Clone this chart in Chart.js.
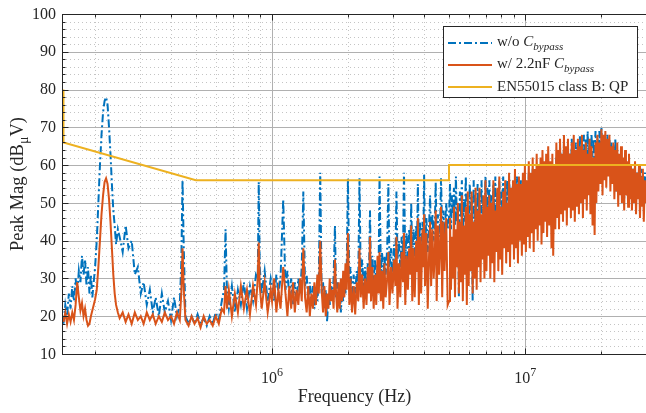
<!DOCTYPE html>
<html>
<head>
<meta charset="utf-8">
<script src="https://cdn.jsdelivr.net/npm/chart.js@4.4.1/dist/chart.umd.min.js"></script>
<style>
  html, body { margin: 0; padding: 0; background: #fff; overflow: hidden; }
  #wrap { width: 646px; height: 413px; }
</style>
</head>
<body>
<div id="wrap"><canvas id="chart"></canvas></div>
<script>
// Measurement frequencies (MHz), shared by both spectra
const freqMHz = [
  // 150 - 250 kHz
  0.15, 0.1525, 0.155, 0.1575, 0.16, 0.1625, 0.165, 0.1675, 0.17, 0.1725,
  0.175, 0.1775, 0.18, 0.1825, 0.185, 0.1875, 0.19, 0.1925, 0.195, 0.1975,
  0.2, 0.203, 0.206, 0.209, 0.212, 0.215, 0.218, 0.221, 0.224, 0.227,
  0.23, 0.233, 0.236, 0.239, 0.242, 0.246,
  // 250 kHz - 1 MHz
  0.25, 0.257, 0.264, 0.271, 0.279, 0.287, 0.295, 0.303, 0.311, 0.32,
  0.329, 0.338, 0.347, 0.357, 0.367, 0.377, 0.388, 0.399, 0.41, 0.421,
  0.432, 0.438, 0.443, 0.448, 0.455, 0.468, 0.481, 0.494, 0.508, 0.522,
  0.537, 0.552, 0.567, 0.583, 0.599, 0.616, 0.633, 0.646, 0.655, 0.664,
  0.675, 0.694, 0.713, 0.733, 0.753, 0.774, 0.796, 0.818, 0.841, 0.864,
  0.878, 0.886, 0.894, 0.91, 0.935, 0.961, 0.988,
  // 1 - 5 MHz
  1.00, 1.02, 1.04, 1.06, 1.08, 1.107, 1.13, 1.15, 1.17, 1.19,
  1.21, 1.23, 1.25, 1.27, 1.29, 1.31, 1.329, 1.35, 1.37, 1.39,
  1.41, 1.43, 1.45, 1.47, 1.49, 1.51, 1.53, 1.55, 1.57, 1.59,
  1.61, 1.63, 1.65, 1.67, 1.69, 1.71, 1.73, 1.75, 1.772, 1.79,
  1.81, 1.83, 1.85, 1.87, 1.89, 1.91, 1.93, 1.95, 1.972, 1.994,
  2.02, 2.04, 2.07, 2.10, 2.13, 2.16, 2.19, 2.215, 2.24, 2.27,
  2.30, 2.33, 2.36, 2.39, 2.415, 2.437, 2.46, 2.49, 2.52, 2.55,
  2.58, 2.61, 2.635, 2.658, 2.69, 2.72, 2.75, 2.78, 2.81, 2.85,
  2.88, 2.91, 2.95, 2.99, 3.03, 3.07, 3.10, 3.13, 3.17, 3.21,
  3.25, 3.29, 3.32, 3.36, 3.40, 3.44, 3.48, 3.52, 3.545, 3.58,
  3.62, 3.66, 3.71, 3.74, 3.766, 3.80, 3.84, 3.88, 3.93, 3.96,
  3.988, 4.02, 4.07, 4.12, 4.17, 4.21, 4.25, 4.30, 4.35, 4.40,
  4.43, 4.47, 4.52, 4.57, 4.62, 4.65, 4.70, 4.75, 4.80, 4.874,
  4.94,
  // 5 - 30 MHz
  5.0, 5.045, 5.09, 5.135, 5.18, 5.23, 5.28, 5.325, 5.37, 5.42,
  5.47, 5.52, 5.57, 5.62, 5.67, 5.72, 5.77, 5.825, 5.88, 5.93,
  5.98, 6.035, 6.09, 6.145, 6.2, 6.255, 6.31, 6.37, 6.43, 6.485,
  6.54, 6.6, 6.66, 6.72, 6.78, 6.84, 6.9, 6.965, 7.03, 7.09,
  7.15, 7.215, 7.28, 7.35, 7.42, 7.485, 7.55, 7.62, 7.69, 7.76,
  7.83, 7.9, 7.97, 8.04, 8.11, 8.185, 8.26, 8.335, 8.41, 8.485,
  8.56, 8.635, 8.71, 8.79, 8.87, 8.95, 9.03, 9.11, 9.19, 9.275,
  9.36, 9.445, 9.53, 9.615, 9.7, 9.79, 9.88, 9.97, 10.06, 10.15,
  10.24, 10.33, 10.42, 10.515, 10.61, 10.705, 10.8, 10.9, 11.0, 11.1,
  11.2, 11.3, 11.4, 11.5, 11.6, 11.7, 11.8, 11.9, 12.0, 12.1,
  12.2, 12.325, 12.45, 12.575, 12.7, 12.8, 12.9, 13.025, 13.15, 13.275,
  13.4, 13.5, 13.6, 13.725, 13.85, 13.975, 14.1, 14.225, 14.35, 14.475,
  14.6, 14.75, 14.9, 15.025, 15.15, 15.275, 15.4, 15.55, 15.7, 15.85,
  16.0, 16.15, 16.3, 16.45, 16.6, 16.75, 16.9, 17.05, 17.2, 17.35,
  17.5, 17.65, 17.8, 17.95, 18.1, 18.275, 18.45, 18.625, 18.8, 18.95,
  19.1, 19.275, 19.45, 19.625, 19.8, 20.0, 20.2, 20.375, 20.55, 20.725,
  20.9, 21.1, 21.3, 21.5, 21.7, 21.9, 22.1, 22.3, 22.5, 22.7,
  22.9, 23.1, 23.3, 23.5, 23.7, 23.9, 24.1, 24.35, 24.6, 24.8,
  25.0, 25.25, 25.5, 25.7, 25.9, 26.15, 26.4, 26.65, 26.9, 27.15,
  27.4, 27.65, 27.9, 28.15, 28.4, 28.65, 28.9, 29.15, 29.4, 29.7,
  30.0
];

// w/o C_bypass (dBuV)
const noCapDb = [
  18, 23, 20, 26, 22, 28, 24, 30, 26, 32,
  29, 36, 31, 35, 28, 33, 26, 31, 25, 29,
  33, 40, 50, 60, 68, 74, 77, 78, 76, 70,
  63, 55, 48, 44, 39, 43,

  41, 37, 44, 38, 40, 31, 33, 26, 29, 23,
  27, 21, 25, 20, 26, 21, 24, 19, 25, 20,
  23, 34, 56, 38, 20, 18, 20, 18, 20.5, 18,
  19.5, 17.5, 20, 18, 21, 19, 24, 27, 43, 26,
  22, 28, 21, 27, 23, 29, 22, 28, 24, 31,
  30, 55.5, 33, 26, 32, 24, 30,

  28, 24, 31, 26, 30, 51, 27, 32, 25, 30,
  23, 29, 24, 30, 26, 33, 53, 28, 31, 24,
  29, 23, 28, 22, 27, 24, 30, 58, 26, 29,
  22, 27, 18.5, 26, 23, 29, 24, 30, 44, 25,
  29, 23, 28, 21, 27, 24, 31, 26, 33, 56.5,
  28, 33, 24, 31, 26, 32, 29, 56.5, 30, 35,
  27, 33, 28, 34, 31, 48, 30, 36, 29, 35,
  28, 34, 31, 57, 32, 37, 30, 36, 31, 38,
  55, 33, 38, 31, 39, 34, 53, 35, 40, 33,
  41, 36, 58, 35, 42, 34, 43, 38, 50, 36,
  43, 35, 44, 39, 55, 37, 45, 36, 45, 40,
  57.5, 38, 46, 37, 44, 52, 39, 47, 40, 46,
  55.5, 40, 47, 41, 46, 56.5, 42, 48, 41, 50,
  43,

  46, 55, 43, 52, 47, 54, 44, 57, 45, 50,
  25, 53, 46, 56, 42, 51, 45, 57, 40, 49,
  44, 55, 47, 52, 24, 56, 45, 50, 43, 55,
  46, 53, 42, 56, 47, 51, 44, 57, 48, 54,
  45, 56, 49, 52, 44, 55, 47, 57, 43, 53,
  48, 56, 45, 53, 49, 57, 46, 54, 47, 56,
  46, 57, 49, 53, 47, 56, 48, 55, 46, 57,
  47, 54, 44, 56, 48, 53, 45, 57, 49, 55,
  46, 58, 50, 55, 47, 59, 49, 56, 51, 58,
  48, 57, 52, 60, 49, 58, 51, 59, 50, 57,
  53, 61, 50, 58, 54, 60, 49, 59, 52, 62,
  55, 62, 53, 65, 56, 63, 54, 66, 57, 64,
  53, 65, 58, 63, 55, 67, 57, 64, 56, 66,
  58, 65, 56, 68, 59, 66, 57, 68, 60, 67,
  58, 69, 61, 67, 59, 68, 62, 67, 60, 69,
  63, 67, 61, 69, 64, 70, 62, 68, 59, 67,
  63, 68, 58, 67, 61, 66, 56, 65, 55, 67,
  53, 64, 55, 62, 52, 63, 54, 61, 51, 60,
  53, 59, 51, 60, 54, 58, 52, 59, 53, 57,
  52, 58, 54, 57, 51, 59, 53, 56, 52, 58,
  55
];

// w/ 2.2nF C_bypass (dBuV)
const withCapDb = [
  18.5, 21, 18, 20.5, 18.5, 21, 19, 23, 29, 25,
  21.5, 23.5, 20, 22, 19, 17.5, 18, 20, 21.5, 23,
  24.5, 27, 33, 40, 47, 52, 55.5, 56.5, 55, 51,
  45, 38, 31, 26, 23, 21,

  19.5, 21, 18.5, 20.5, 18, 21, 19, 20, 18, 21,
  19, 20.5, 18, 20, 18.5, 21, 19, 20, 18, 21,
  19, 26, 38, 27, 19, 17.5, 20, 18, 19.5, 17,
  20, 18, 19, 17.5, 20, 18, 22, 21, 28, 22,
  27, 20, 26, 21, 28, 22, 27, 20.5, 28, 23,
  30, 39.5, 28, 22, 29, 21, 27,

  24, 30, 21, 27, 22, 33, 26, 20, 28, 22,
  29, 21, 27, 23, 30, 24, 38, 25, 21, 28,
  20, 26, 22, 29, 23, 31, 26, 40, 27, 21,
  28, 20, 26, 22, 30, 24, 27, 22, 35, 26,
  21, 29, 22, 30, 24, 32, 25, 34, 27, 42,
  23, 30, 21, 28, 20.5, 29, 24, 38, 25, 31,
  22, 30, 23, 33, 26, 41, 24, 33, 22, 31,
  23, 36, 26, 37, 24, 32, 22, 34, 25, 30,
  37, 23, 33, 26, 35, 28, 41, 22, 34, 25,
  37, 29, 42, 23, 36, 27, 38, 31, 44, 24,
  38, 25, 40, 32, 46, 23, 41, 26, 43, 33,
  47, 28, 42, 22, 36, 45, 28, 43, 30, 38,
  48, 24, 44, 31, 40, 49, 25, 45, 32, 46,
  23,

  24, 46, 27, 41, 30, 49, 25, 43, 33, 50,
  26, 45, 29, 52, 24, 44, 31, 49, 23, 53,
  28, 47, 32, 53, 26, 45, 30, 54, 27, 48,
  33, 54, 29, 47, 35, 52, 30, 56, 32, 49,
  36, 52, 30, 50, 34, 56, 29, 48, 37, 54,
  32, 57, 35, 49, 31, 53, 38, 56, 34, 50,
  37, 58, 33, 54, 39, 56, 35, 59, 38, 55,
  34, 57, 40, 55, 36, 58, 39, 60, 37, 56,
  41, 61, 38, 58, 42, 62, 37, 59, 43, 63,
  40, 60, 44, 62, 39, 64, 42, 61, 45, 63,
  41, 65, 44, 61, 38, 63, 36, 60, 43, 66,
  46, 64, 43, 67, 47, 63, 45, 68, 48, 65,
  44, 67, 49, 63, 46, 66, 48, 68, 45, 64,
  49, 67, 47, 65, 50, 68, 46, 64, 51, 66,
  48, 63, 52, 67, 47, 65, 44, 62, 41.5, 66,
  50, 68, 53, 66, 55, 69.5, 52, 68, 56, 69,
  54, 67, 57, 68, 53, 65, 55, 66, 51, 64,
  53, 66, 49, 63, 52, 65, 50, 62, 48, 64,
  52, 61, 49, 63, 51, 60, 48, 59, 50, 61,
  47, 58, 51, 60, 46, 57, 49, 59, 45, 56,
  50
];

// EN55015 class B quasi-peak limit
const limitFreqMHz = [0.15, 0.15, 0.5, 5, 5, 30];
const limitDb = [80, 66, 56, 56, 60, 60];

const yMajorTicks = [10, 20, 30, 40, 50, 60, 70, 80, 90, 100];
const xMajorTicks = [1e6, 1e7];

const SERIF = '"Liberation Serif", "Times New Roman", serif';
const INK = '#262626';

const series = [
  { parts: [['w/o ', 'n'], ['C', 'i'], ['bypass', 'sub']], color: '#0072BD', dash: [8, 3, 2, 3] },
  { parts: [['w/ 2.2nF ', 'n'], ['C', 'i'], ['bypass', 'sub']], color: '#D95319', dash: [] },
  { parts: [['EN55015 class B: QP', 'n']], color: '#EDB120', dash: [] }
];

// draws (or just measures) text made of normal / italic / sub / sup pieces
function richText(ctx, parts, x, y, size, draw = true) {
  let cx = x;
  for (const [text, style] of parts) {
    const small = style === 'sub' || style === 'rsub' || style === 'sup';
    const fs = small ? Math.round(size * 0.74) : size;
    const italic = style === 'i' || style === 'sub';
    ctx.font = (italic ? 'italic ' : '') + fs + 'px ' + SERIF;
    let dy = 0;
    if (style === 'sub' || style === 'rsub') dy = size * 0.28;
    if (style === 'sup') dy = -size * 0.45;
    if (draw) ctx.fillText(text, cx, y + dy);
    cx += ctx.measureText(text).width;
  }
  return cx - x;
}

function line(ctx, x1, y1, x2, y2) {
  ctx.beginPath();
  ctx.moveTo(x1, y1);
  ctx.lineTo(x2, y2);
  ctx.stroke();
}

function minorX(scale) {
  const out = [];
  for (const d of [1e5, 1e6, 1e7]) {
    for (let k = 2; k <= 9; k++) {
      const v = k * d;
      if (v >= scale.min && v <= scale.max) out.push(v);
    }
  }
  return out;
}

function minorY() {
  const out = [];
  for (let v = 12; v < 100; v += 2) if (v % 10 !== 0) out.push(v);
  return out;
}

const matlabAxes = {
  id: 'matlabAxes',
  beforeDatasetsDraw(chart) {
    const { ctx, chartArea: a, scales: { x, y } } = chart;
    ctx.save();
    ctx.lineWidth = 1;

    // minor grid, dotted
    ctx.strokeStyle = '#c4c4c4';
    ctx.setLineDash([1, 3]);
    minorX(x).forEach(v => {
      const px = Math.round(x.getPixelForValue(v)) + 0.5;
      line(ctx, px, a.top, px, a.bottom);
    });
    minorY().forEach(v => {
      const py = Math.round(y.getPixelForValue(v)) + 0.5;
      line(ctx, a.left, py, a.right, py);
    });

    // major grid
    ctx.setLineDash([]);
    ctx.strokeStyle = '#b0b0b0';
    xMajorTicks.forEach(v => {
      const px = Math.round(x.getPixelForValue(v)) + 0.5;
      line(ctx, px, a.top, px, a.bottom);
    });
    yMajorTicks.forEach(v => {
      const py = Math.round(y.getPixelForValue(v)) + 0.5;
      line(ctx, a.left, py, a.right, py);
    });
    ctx.restore();
  },
  afterDatasetsDraw(chart) {
    const { ctx, chartArea: a, scales: { x, y } } = chart;
    ctx.save();
    ctx.strokeStyle = INK;
    ctx.fillStyle = INK;
    ctx.lineWidth = 1;
    const L = Math.round(a.left) + 0.5;
    const B = Math.round(a.bottom) + 0.5;
    const T = Math.round(a.top) + 0.5;

    // box (right side falls off the page)
    line(ctx, L, a.top, L, a.bottom + 1);
    line(ctx, a.left, B, a.right, B);
    line(ctx, a.left, T, a.right, T);

    // ticks pointing in
    minorY().forEach(v => {
      const py = Math.round(y.getPixelForValue(v)) + 0.5;
      line(ctx, L, py, L + 3, py);
    });
    yMajorTicks.forEach(v => {
      const py = Math.round(y.getPixelForValue(v)) + 0.5;
      line(ctx, L, py, L + 6, py);
    });
    minorX(x).forEach(v => {
      const px = Math.round(x.getPixelForValue(v)) + 0.5;
      line(ctx, px, B, px, B - 3);
      line(ctx, px, T, px, T + 3);
    });
    xMajorTicks.forEach(v => {
      const px = Math.round(x.getPixelForValue(v)) + 0.5;
      line(ctx, px, B, px, B - 6);
      line(ctx, px, T, px, T + 6);
    });

    // y tick labels
    ctx.font = '16px ' + SERIF;
    ctx.textAlign = 'right';
    ctx.textBaseline = 'middle';
    yMajorTicks.forEach(v => {
      ctx.fillText(String(v), a.left - 6, y.getPixelForValue(v) + 0.5);
    });

    // x tick labels, 10^n
    ctx.textAlign = 'left';
    ctx.textBaseline = 'alphabetic';
    xMajorTicks.forEach(v => {
      const parts = [['10', 'n'], [String(Math.round(Math.log10(v))), 'sup']];
      const w = richText(ctx, parts, 0, 0, 16, false);
      richText(ctx, parts, x.getPixelForValue(v) - w / 2, 383, 16);
    });

    // axis titles
    const xt = [['Frequency (Hz)', 'n']];
    const xw = richText(ctx, xt, 0, 0, 18, false);
    richText(ctx, xt, (a.left + 647) / 2 - xw / 2, 402, 18);

    const yt = [['Peak Mag (dB', 'n'], ['\u03bc', 'rsub'], ['V)', 'n']];
    const yw = richText(ctx, yt, 0, 0, 18.5, false);
    ctx.save();
    ctx.translate(23, (a.top + a.bottom) / 2);
    ctx.rotate(-Math.PI / 2);
    richText(ctx, yt, -yw / 2, 0, 18.5);
    ctx.restore();

    // legend
    const bx = 443.5, by = 26.5, bw = 194, bh = 71;
    ctx.fillStyle = '#fff';
    ctx.fillRect(bx, by, bw, bh);
    ctx.strokeStyle = INK;
    ctx.strokeRect(bx, by, bw, bh);
    const rows = [43, 65, 87];
    const baselines = [46, 68, 91];
    series.forEach((s, i) => {
      ctx.strokeStyle = s.color;
      ctx.lineWidth = 2;
      ctx.setLineDash(s.dash);
      line(ctx, 448, rows[i], 492, rows[i]);
      ctx.setLineDash([]);
      ctx.fillStyle = INK;
      richText(ctx, s.parts, 497, baselines[i], 15);
    });
    ctx.restore();
  }
};

const toPoints = (fs, ys) => fs.map((f, i) => ({ x: f * 1e6, y: ys[i] }));

new Chart(document.getElementById('chart'), {
  type: 'line',
  data: {
    datasets: [
      {
        data: toPoints(freqMHz, noCapDb),
        borderColor: series[0].color,
        borderDash: series[0].dash,
        borderWidth: 2,
        order: 3
      },
      {
        data: toPoints(freqMHz, withCapDb),
        borderColor: series[1].color,
        borderWidth: 2,
        order: 2
      },
      {
        data: toPoints(limitFreqMHz, limitDb),
        borderColor: series[2].color,
        borderWidth: 2,
        order: 1
      }
    ]
  },
  options: {
    responsive: true,
    maintainAspectRatio: false,
    devicePixelRatio: 1,
    animation: false,
    layout: { padding: { left: 62, top: 14, right: 0, bottom: 59 } },
    elements: {
      point: { radius: 0 },
      line: { tension: 0, borderCapStyle: 'butt', borderJoinStyle: 'miter' }
    },
    plugins: { legend: { display: false }, tooltip: { enabled: false } },
    scales: {
      x: { type: 'logarithmic', min: 1.48e5, max: 3e7, display: false },
      y: { type: 'linear', min: 10, max: 100, display: false }
    }
  },
  plugins: [matlabAxes]
});
</script>
</body>
</html>
